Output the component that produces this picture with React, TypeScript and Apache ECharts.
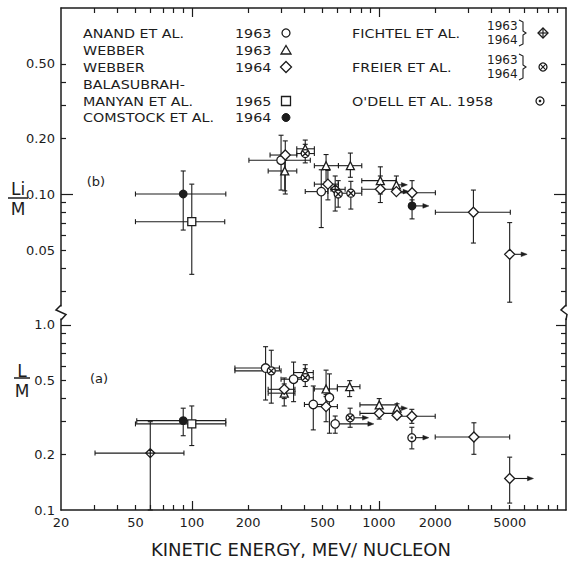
import React, { useEffect, useRef } from "react";
import * as echarts from "echarts";

const INK = "#1c1c1c";
const FONT = '"DejaVu Sans", "Liberation Sans", sans-serif';
const L = (v: number) => Math.log10(v);

// ---------- axes ----------
const X_RANGE = [20, 10000];
const X_LABELS = [20, 50, 100, 200, 500, 1000, 2000, 5000];
const X_MINOR = [30, 40, 50, 60, 70, 80, 90, 200, 300, 400, 500, 600, 700, 800, 900, 2000, 3000, 4000, 5000, 6000, 7000, 8000, 9000];
const X_MAJOR = [100, 1000];

const B_RANGE = [0.025, 1.0];
const B_LABELS = [0.05, 0.1, 0.2, 0.5];
const B_LABEL_TEXT = ["0.05", "0.10", "0.20", "0.50"];
const B_MINOR = [0.03, 0.04, 0.05, 0.06, 0.07, 0.08, 0.09, 0.2, 0.3, 0.4, 0.5];
const B_MAJOR = [0.1];

const A_RANGE = [0.1, 1.077];
const A_LABELS = [0.1, 0.2, 0.5, 1.0];
const A_LABEL_TEXT = ["0.1", "0.2", "0.5", "1.0"];
const A_MINOR = [0.2, 0.3, 0.4, 0.5, 0.6, 0.7, 0.8, 0.9];
const A_MAJOR = [1.0];

// ---------- data: [E, ratio, E_lo, E_hi, ratio_lo, ratio_hi, arrowTipE] ----------
// panel (b): Li/M
const B_ANAND = [
  [300, 0.152, 202, 430, 0.105, 0.207, null],
  [492, 0.103, 404, 534, 0.066, 0.135, null],
];
const B_WEBBER63 = [
  [314, 0.133, 256, 364, 0.104, 0.152, null],
  [404, 0.175, 364, 452, 0.16, 0.195, null],
  [522, 0.142, 452, 608, 0.116, 0.163, null],
  [704, 0.142, 608, 810, 0.123, 0.166, null],
  [1018, 0.118, 810, 1236, 0.1, 0.14, null],
  [1240, 0.112, null, null, 0.1, 0.125, 1420],
];
const B_WEBBER64 = [
  [316, 0.162, 262, 364, 0.1, 0.193, null],
  [534, 0.113, 452, 608, 0.093, 0.134, null],
  [1018, 0.106, 810, 1236, 0.09, 0.125, null],
  [1240, 0.103, null, null, null, null, 1450],
  [1504, 0.1016, 1240, 2004, 0.0884, 0.118, null],
  [3200, 0.0798, 2004, 5040, 0.0545, 0.105, null],
  [5000, 0.0474, null, null, 0.0262, 0.0702, 6200],
];
const B_BALAS = [[100, 0.071, 50, 150, 0.037, 0.113, null]];
const B_COMSTOCK = [
  [90, 0.1, 50, 152, 0.064, 0.133, null],
  [1504, 0.0863, null, null, 0.0735, 0.093, 1850],
];
const B_FICHTEL = [[584, 0.106, 555, 660, 0.081, 0.125, null]];
const B_FREIER = [
  [404, 0.165, 364, 452, 0.147, 0.185, null],
  [606, 0.1, null, null, 0.085, 0.118, null],
  [708, 0.101, 632, 810, 0.083, 0.117, null],
];
const B_ODELL: any[] = [];

// panel (a): L/M
const A_ANAND = [
  [248, 0.585, 170, 294, 0.393, 0.763, null],
  [350, 0.509, 300, 404, 0.385, 0.63, null],
  [446, 0.372, 400, 522, 0.271, 0.468, null],
  [544, 0.405, null, null, 0.26, 0.544, null],
  [584, 0.292, null, null, 0.26, 0.322, 940],
];
const A_WEBBER63 = [
  [312, 0.428, 256, 356, 0.365, 0.48, null],
  [404, 0.553, 350, 446, 0.5, 0.61, null],
  [522, 0.451, 452, 600, 0.41, 0.57, null],
  [698, 0.464, 600, 792, 0.41, 0.5, null],
  [1004, 0.37, 792, 1250, 0.34, 0.4, null],
  [1250, 0.355, null, null, 0.335, 0.375, 1420],
];
const A_WEBBER64 = [
  [312, 0.449, 256, 356, 0.4, 0.517, null],
  [522, 0.362, 452, 600, 0.3, 0.42, null],
  [1004, 0.333, 792, 1250, 0.31, 0.36, null],
  [1250, 0.325, null, null, null, null, null],
  [1500, 0.321, 1250, 2000, 0.294, 0.35, null],
  [3220, 0.248, 2000, 5000, 0.2, 0.296, null],
  [5000, 0.148, null, null, 0.109, 0.193, 6700],
];
const A_BALAS = [[100, 0.292, 50, 152, 0.223, 0.365, null]];
const A_COMSTOCK = [[90, 0.304, 50.8, 152, 0.252, 0.355, null]];
const A_FICHTEL = [[60, 0.203, 30.4, 90.8, 0.1, 0.3, null]];
const A_FREIER = [
  [266, 0.565, 170, 300, 0.378, 0.73, null],
  [404, 0.519, 350, 446, 0.465, 0.58, null],
  [702, 0.315, null, null, 0.28, 0.355, 880],
];
const A_ODELL = [[1500, 0.246, null, null, 0.214, 0.28, 1850]];

// ---------- symbols ----------
const P_FICHTEL = "path://M5 0L10 5L5 10L0 5ZM5 0L5 10M0 5L10 5";
const P_FREIER = "path://M10 5A5 5 0 1 1 0 5A5 5 0 1 1 10 5ZM1.6 1.6L8.4 8.4M1.6 8.4L8.4 1.6";

const STYLES: Record<string, any> = {
  anand: { symbol: "circle", size: 8.5, fill: "#fff" },
  webber63: { symbol: "triangle", size: 8, fill: "#fff" },
  webber64: { symbol: "diamond", size: 10, fill: "#fff" },
  balas: { symbol: "rect", size: 8, fill: "#fff" },
  comstock: { symbol: "circle", size: 7.5, fill: INK },
  fichtel: { symbol: P_FICHTEL, size: 9, fill: "#fff" },
  freier: { symbol: P_FREIER, size: 8, fill: "#fff" },
  odell: { symbol: "circle", size: 8, fill: "#fff" },
};

const PANELS = [
  {
    xAxisIndex: 0,
    yAxisIndex: 0,
    sets: { anand: B_ANAND, webber63: B_WEBBER63, webber64: B_WEBBER64, balas: B_BALAS, comstock: B_COMSTOCK, fichtel: B_FICHTEL, freier: B_FREIER, odell: B_ODELL },
  },
  {
    xAxisIndex: 2,
    yAxisIndex: 4,
    sets: { anand: A_ANAND, webber63: A_WEBBER63, webber64: A_WEBBER64, balas: A_BALAS, comstock: A_COMSTOCK, fichtel: A_FICHTEL, freier: A_FREIER, odell: A_ODELL },
  },
];

function fmt(v: number, vals: number[], texts: string[]) {
  for (let i = 0; i < vals.length; i++) if (Math.abs(L(vals[i]) - v) < 1e-6) return texts[i];
  return "";
}

function errRender(rows: any[]) {
  return (params: any, api: any) => {
    const [E, v, elo, ehi, vlo, vhi, tip] = rows[params.dataIndex];
    const st = { stroke: INK, lineWidth: 1.1, fill: null };
    const ch: any[] = [];
    const c = api.coord([L(E), L(v)]);
    const ln = (x1: number, y1: number, x2: number, y2: number) =>
      ch.push({ type: "line", shape: { x1, y1, x2, y2 }, style: st });
    const cap = 2.5;
    if (elo != null && ehi != null) {
      const p1 = api.coord([L(elo), L(v)]);
      const p2 = api.coord([L(ehi), L(v)]);
      ln(p1[0], p1[1], p2[0], p2[1]);
      ln(p1[0], p1[1] - cap, p1[0], p1[1] + cap);
      ln(p2[0], p2[1] - cap, p2[0], p2[1] + cap);
    }
    if (vlo != null && vhi != null) {
      const p1 = api.coord([L(E), L(vlo)]);
      const p2 = api.coord([L(E), L(vhi)]);
      ln(p1[0], p1[1], p2[0], p2[1]);
      ln(p1[0] - cap, p1[1], p1[0] + cap, p1[1]);
      ln(p2[0] - cap, p2[1], p2[0] + cap, p2[1]);
    }
    if (tip != null) {
      const t = api.coord([L(tip), L(v)]);
      ln(c[0], c[1], t[0] - 4, t[1]);
      ch.push({
        type: "polygon",
        shape: { points: [[t[0], t[1]], [t[0] - 6, t[1] - 2.3], [t[0] - 6, t[1] + 2.3]] },
        style: { fill: INK, stroke: INK, lineWidth: 0.5 },
      });
    }
    return { type: "group", children: ch };
  };
}

function buildSeries() {
  const series: any[] = [];
  for (const p of PANELS) {
    for (const key of Object.keys(p.sets)) {
      const rows = (p.sets as any)[key];
      if (!rows.length) continue;
      series.push({
        type: "custom",
        coordinateSystem: "cartesian2d",
        xAxisIndex: p.xAxisIndex,
        yAxisIndex: p.yAxisIndex,
        renderItem: errRender(rows),
        data: rows.map((r: any) => [L(r[0]), L(r[1])]),
        encode: { x: 0, y: 1 },
        silent: true,
        z: 2,
      });
    }
  }
  for (const p of PANELS) {
    for (const key of Object.keys(p.sets)) {
      const rows = (p.sets as any)[key];
      if (!rows.length) continue;
      const s = STYLES[key];
      series.push({
        type: "scatter",
        xAxisIndex: p.xAxisIndex,
        yAxisIndex: p.yAxisIndex,
        symbol: s.symbol,
        symbolSize: s.size,
        itemStyle: { color: s.fill, borderColor: INK, borderWidth: 1.3, opacity: 1 },
        data: rows.map((r: any) => [L(r[0]), L(r[1])]),
        silent: true,
        z: 5,
      });
      if (key === "odell") {
        series.push({
          type: "scatter",
          xAxisIndex: p.xAxisIndex,
          yAxisIndex: p.yAxisIndex,
          symbol: "circle",
          symbolSize: 2.6,
          itemStyle: { color: INK },
          data: rows.map((r: any) => [L(r[0]), L(r[1])]),
          silent: true,
          z: 6,
        });
      }
    }
  }
  return series;
}

const lineStyle = { color: INK, width: 1.5 };

function xAxis(gridIndex: number, position: string, opts: any) {
  return {
    type: "value",
    gridIndex,
    position,
    min: L(X_RANGE[0]),
    max: L(X_RANGE[1]),
    axisLine: { show: !!opts.line, onZero: false, lineStyle },
    axisTick: { show: true, inside: true, length: opts.len, customValues: opts.ticks.map(L), lineStyle: { color: INK, width: 1.2 } },
    axisLabel: opts.labels
      ? { show: true, customValues: X_LABELS.map(L), formatter: (v: number) => fmt(v, X_LABELS, X_LABELS.map(String)), fontFamily: FONT, fontSize: 13, color: INK, margin: 6 }
      : { show: false },
    splitLine: { show: false },
  };
}

function yAxis(gridIndex: number, position: string, range: number[], opts: any) {
  return {
    type: "value",
    gridIndex,
    position,
    min: L(range[0]),
    max: L(range[1]),
    axisLine: { show: !!opts.line, onZero: false, lineStyle },
    axisTick: { show: true, inside: true, length: opts.len, customValues: opts.ticks.map(L), lineStyle: { color: INK, width: 1.2 } },
    axisLabel: opts.labels
      ? { show: true, customValues: opts.labels.map(L), formatter: (v: number) => fmt(v, opts.labels, opts.texts), fontFamily: FONT, fontSize: 13, color: INK, margin: 6 }
      : { show: false },
    splitLine: { show: false },
  };
}

function txt(text: string, x: number, y: number, size: number, extra: any = {}) {
  return {
    type: "text",
    x,
    y,
    scaleX: extra.scaleX ?? 1,
    style: { text, font: `${size}px ${FONT}`, fill: INK, align: extra.align ?? "left", verticalAlign: "middle" },
    silent: true,
  };
}

const stroke = { stroke: INK, lineWidth: 1.3, fill: "#fff" };

function legendGraphics() {
  const g: any[] = [];
  const rows = [33, 50, 67, 84.5, 101, 117.5];
  const sx = 1.1;
  const left = [
    ["ANAND ET AL.", "1963"],
    ["WEBBER", "1963"],
    ["WEBBER", "1964"],
    ["BALASUBRAH-", ""],
    ["MANYAN ET AL.", "1965"],
    ["COMSTOCK ET AL.", "1964"],
  ];
  left.forEach(([name, yr], i) => {
    g.push(txt(name, 83, rows[i], 13, { scaleX: sx }));
    if (yr) g.push(txt(yr, 235, rows[i], 13, { scaleX: sx }));
  });
  const sxp = 286;
  g.push({ type: "circle", shape: { cx: sxp, cy: rows[0], r: 4 }, style: stroke });
  g.push({ type: "polygon", shape: { points: [[sxp, rows[1] - 4.5], [sxp + 5, rows[1] + 4], [sxp - 5, rows[1] + 4]] }, style: stroke });
  g.push({ type: "polygon", shape: { points: [[sxp, rows[2] - 5.5], [sxp + 5.5, rows[2]], [sxp, rows[2] + 5.5], [sxp - 5.5, rows[2]]] }, style: stroke });
  g.push({ type: "rect", shape: { x: sxp - 4.5, y: rows[4] - 4.5, width: 9, height: 9 }, style: stroke });
  g.push({ type: "circle", shape: { cx: sxp, cy: rows[5], r: 4 }, style: { fill: INK, stroke: INK, lineWidth: 1 } });

  // right column
  const rx = 352;
  g.push(txt("FICHTEL ET AL.", rx, rows[0], 13, { scaleX: sx }));
  g.push(txt("FREIER ET AL.", rx, rows[2], 13, { scaleX: sx }));
  g.push(txt("O'DELL ET AL. 1958", rx, rows[4], 13, { scaleX: sx }));
  for (const cy of [rows[0], rows[2]]) {
    g.push(txt("1963", 487, cy - 7, 12, { scaleX: 1.0 }));
    g.push(txt("1964", 487, cy + 7, 12, { scaleX: 1.0 }));
    g.push({
      type: "polyline",
      shape: { points: [[519, cy - 13], [523, cy - 11], [523, cy - 2], [526, cy], [523, cy + 2], [523, cy + 11], [519, cy + 13]] },
      style: { stroke: INK, lineWidth: 1.1, fill: null },
    });
  }
  const fx = 543;
  const fy = rows[0];
  g.push({ type: "polygon", shape: { points: [[fx, fy - 5], [fx + 5, fy], [fx, fy + 5], [fx - 5, fy]] }, style: stroke });
  g.push({ type: "line", shape: { x1: fx, y1: fy - 5, x2: fx, y2: fy + 5 }, style: { stroke: INK, lineWidth: 1.2 } });
  g.push({ type: "line", shape: { x1: fx - 5, y1: fy, x2: fx + 5, y2: fy }, style: { stroke: INK, lineWidth: 1.2 } });
  const ey = rows[2];
  g.push({ type: "circle", shape: { cx: fx, cy: ey, r: 4 }, style: stroke });
  g.push({ type: "line", shape: { x1: fx - 2.8, y1: ey - 2.8, x2: fx + 2.8, y2: ey + 2.8 }, style: { stroke: INK, lineWidth: 1.1 } });
  g.push({ type: "line", shape: { x1: fx - 2.8, y1: ey + 2.8, x2: fx + 2.8, y2: ey - 2.8 }, style: { stroke: INK, lineWidth: 1.1 } });
  const oy = rows[4];
  g.push({ type: "circle", shape: { cx: 540, cy: oy, r: 4 }, style: stroke });
  g.push({ type: "circle", shape: { cx: 540, cy: oy, r: 1.3 }, style: { fill: INK } });
  return g;
}

function otherGraphics() {
  const g: any[] = [];
  // y-axis titles (fractions)
  g.push(txt("Li", 18, 189, 17, { align: "center" }));
  g.push({ type: "line", shape: { x1: 8, y1: 198, x2: 28, y2: 198 }, style: { stroke: INK, lineWidth: 1.5 } });
  g.push(txt("M", 18, 208.5, 17, { align: "center" }));
  g.push(txt("L", 22, 370.5, 17, { align: "center" }));
  g.push({ type: "line", shape: { x1: 14, y1: 378, x2: 30, y2: 378 }, style: { stroke: INK, lineWidth: 1.5 } });
  g.push(txt("M", 22, 391, 17, { align: "center" }));
  // panel tags
  g.push(txt("(b)", 96, 181, 13, { align: "center" }));
  g.push(txt("(a)", 99, 378, 13, { align: "center" }));
  // x-axis title
  g.push(txt("KINETIC ENERGY, MEV/ NUCLEON", 301, 549, 18, { align: "center" }));
  // axis breaks
  g.push({ type: "polyline", shape: { points: [[61, 305], [56, 310], [66, 314.5], [61, 320]] }, style: { stroke: INK, lineWidth: 1.5, fill: null } });
  g.push({ type: "polyline", shape: { points: [[566, 305], [561, 310], [567, 314.5], [566, 320]] }, style: { stroke: INK, lineWidth: 1.5, fill: null } });
  return g;
}

function buildOption() {
  return {
    animation: false,
    backgroundColor: "#fff",
    grid: [
      { left: 61, right: 2, top: 8, height: 298 },
      { left: 61, right: 2, top: 319, height: 191 },
    ],
    xAxis: [
      xAxis(0, "top", { line: true, len: 5, ticks: X_MINOR }),
      xAxis(0, "top", { line: false, len: 9, ticks: X_MAJOR }),
      xAxis(1, "bottom", { line: true, len: 5, ticks: X_MINOR, labels: true }),
      xAxis(1, "bottom", { line: false, len: 9, ticks: X_MAJOR }),
    ],
    yAxis: [
      yAxis(0, "left", B_RANGE, { line: true, len: 5, ticks: B_MINOR, labels: B_LABELS, texts: B_LABEL_TEXT }),
      yAxis(0, "right", B_RANGE, { line: true, len: 5, ticks: B_MINOR }),
      yAxis(0, "left", B_RANGE, { line: false, len: 12, ticks: B_MAJOR }),
      yAxis(0, "right", B_RANGE, { line: false, len: 12, ticks: B_MAJOR }),
      yAxis(1, "left", A_RANGE, { line: true, len: 5, ticks: A_MINOR, labels: A_LABELS, texts: A_LABEL_TEXT }),
      yAxis(1, "right", A_RANGE, { line: true, len: 5, ticks: A_MINOR }),
      yAxis(1, "left", A_RANGE, { line: false, len: 10, ticks: A_MAJOR }),
      yAxis(1, "right", A_RANGE, { line: false, len: 10, ticks: A_MAJOR }),
    ],
    series: buildSeries(),
    graphic: [...legendGraphics(), ...otherGraphics()],
  };
}

export default function App() {
  const ref = useRef<HTMLDivElement>(null);
  useEffect(() => {
    document.body.style.margin = "0";
    const chart = echarts.init(ref.current as HTMLDivElement, null, { renderer: "svg" });
    chart.setOption(buildOption() as any);
    return () => chart.dispose();
  }, []);
  return <div ref={ref} style={{ width: 568, height: 562, background: "#fff" }} />;
}
